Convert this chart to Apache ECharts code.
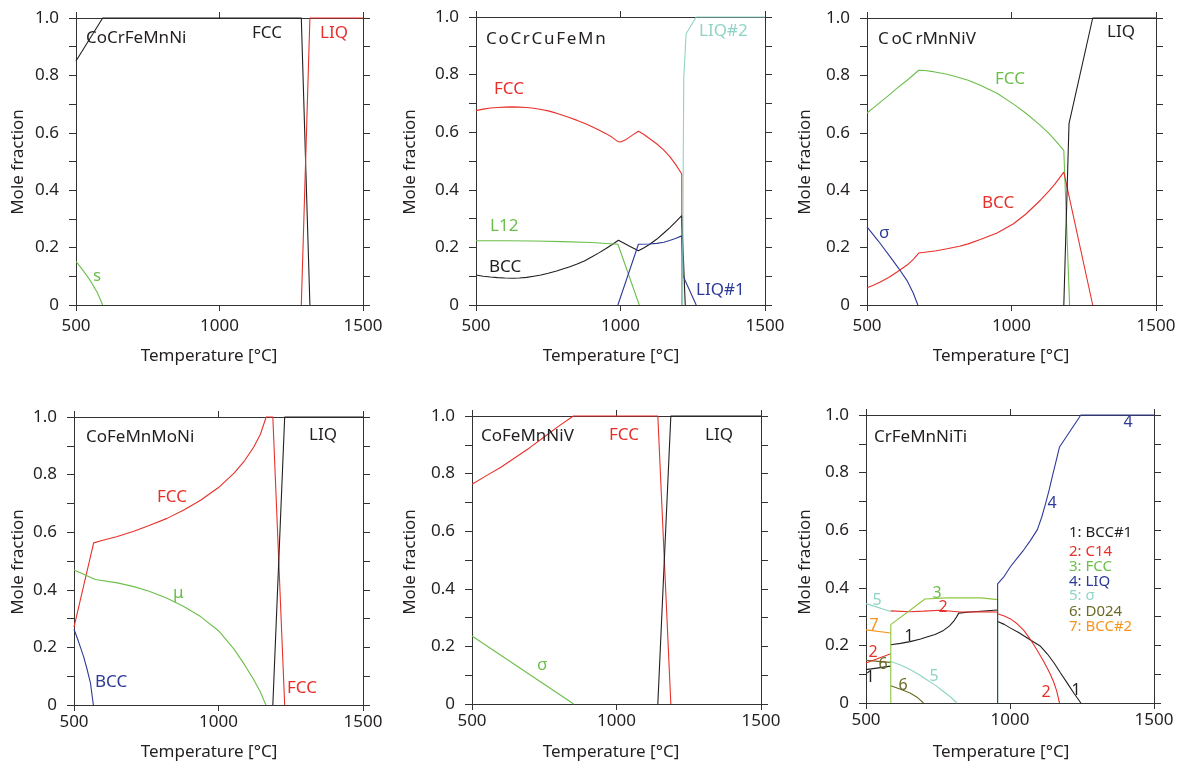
<!DOCTYPE html>
<html><head><meta charset="utf-8">
<script src="https://cdn.jsdelivr.net/npm/echarts@6/dist/echarts.min.js"></script>
<style>html,body{margin:0;padding:0;background:#fff}#c{width:1180px;height:768px}</style>
</head><body><div id="c"></div>
<script>
// ---------- data (temperature °C, mole fraction) ----------
const xTicks = [500, 1000, 1500];
const yTicks = [0, 0.2, 0.4, 0.6, 0.8, 1.0];

// Panel 1: CoCrFeMnNi
const p1_fcc = [[500,0.85],[593,1],[1285,1],[1315,0]];
const p1_liq = [[1285,0],[1315,1],[1500,1]];
const p1_s   = [[500,0.152],[525,0.12],[550,0.085],[575,0.042],[593,0]];

// Panel 2: CoCrCuFeMn
const p2_fcc = [[500,0.675],[525,0.680],[550,0.684],[575,0.686],[600,0.687],[625,0.688],[650,0.687],[675,0.686],[700,0.683],[725,0.679],[750,0.674],[775,0.667],[800,0.659],[825,0.650],[850,0.641],[875,0.631],[900,0.620],[925,0.608],[950,0.595],[970,0.583],[990,0.568],[1000,0.566],[1020,0.575],[1040,0.589],[1062,0.603],[1080,0.593],[1100,0.578],[1125,0.560],[1150,0.538],[1170,0.516],[1190,0.489],[1212,0.455],[1213,0]];
const p2_bcc = [[500,0.104],[525,0.100],[550,0.097],[575,0.095],[600,0.094],[629,0.093],[650,0.094],[675,0.096],[700,0.100],[725,0.104],[750,0.110],[779,0.118],[800,0.125],[825,0.133],[850,0.142],[875,0.153],[900,0.167],[925,0.181],[950,0.196],[970,0.209],[993,0.225],[1030,0.205],[1062,0.188],[1080,0.198],[1100,0.210],[1126,0.229],[1150,0.250],[1170,0.268],[1190,0.288],[1212,0.31],[1224,0]];
const p2_l12 = [[500,0.223],[600,0.223],[700,0.222],[800,0.220],[900,0.217],[991,0.211],[1065,0]];
const p2_liq1 = [[991,0],[1062,0.211],[1100,0.212],[1126,0.214],[1150,0.218],[1170,0.224],[1190,0.231],[1212,0.24],[1217,0.10],[1262,0]];
const p2_liq2 = [[1215,0],[1217,0.5],[1219,0.79],[1227,0.942],[1262,1],[1500,1]];

// Panel 3: CoCrMnNiV
const p3_fcc = [[500,0.669],[520,0.685],[546,0.707],[569,0.725],[600,0.752],[640,0.784],[679,0.818],[700,0.817],[730,0.813],[777,0.804],[800,0.798],[850,0.783],[892,0.766],[950,0.738],[1007,0.700],[1050,0.668],[1100,0.626],[1130,0.597],[1150,0.575],[1170,0.552],[1181,0.539],[1201,0]];
const p3_bcc = [[500,0.06],[520,0.068],[546,0.080],[575,0.096],[604,0.115],[640,0.140],[661,0.160],[679,0.181],[700,0.184],[740,0.189],[777,0.196],[820,0.205],[850,0.213],[892,0.228],[950,0.251],[1007,0.283],[1050,0.317],[1100,0.365],[1130,0.398],[1150,0.421],[1170,0.448],[1181,0.463],[1281,0]];
const p3_sigma = [[500,0.272],[540,0.222],[581,0.167],[610,0.127],[638,0.086],[660,0.042],[676,0]];
const p3_liq = [[1181,0],[1199,0.632],[1281,1],[1500,1]];

// Panel 4: CoFeMnMoNi
const p4_fcc = [[500,0.27],[568,0.563],[600,0.572],[650,0.585],[707,0.603],[760,0.623],[822,0.648],[880,0.677],[938,0.711],[1000,0.755],[1053,0.804],[1090,0.848],[1122,0.896],[1145,0.94],[1165,1],[1188,1],[1229,0]];
const p4_mu  = [[500,0.469],[574,0.436],[650,0.424],[707,0.411],[760,0.395],[822,0.371],[880,0.342],[938,0.307],[1000,0.258],[1053,0.195],[1090,0.14],[1122,0.088],[1145,0.045],[1164,0]];
const p4_bcc = [[500,0.263],[515,0.222],[533,0.169],[545,0.125],[557,0.076],[567,0]];
const p4_liq = [[1188,0],[1229,1],[1500,1]];

// Panel 5: CoFeMnNiV
const p5_fcc = [[500,0.763],[550,0.793],[600,0.822],[650,0.856],[700,0.89],[760,0.935],[800,0.965],[851,1],[1143,1],[1188,0]];
const p5_liq = [[1143,0],[1188,1],[1500,1]];
const p5_sigma = [[500,0.236],[852,0]];

// Panel 6: CrFeMnNiTi
const p6_bcc1_a = [[500,0.116],[586,0.128]];
const p6_bcc1_b = [[586,0.202],[620,0.207],[653,0.213],[690,0.222],[711,0.229],[740,0.238],[769,0.252],[790,0.268],[804,0.283],[815,0.300],[822,0.312],[862,0.316],[957,0.323]];
const p6_bcc1_c = [[957,0.283],[980,0.273],[1002,0.26],[1030,0.245],[1060,0.226],[1085,0.21],[1106,0.197],[1130,0.17],[1153,0.139],[1175,0.105],[1199,0.069],[1222,0.034],[1246,0]];
const p6_c14_a = [[500,0.139],[586,0.171]];
const p6_c14_b = [[586,0.32],[653,0.317],[700,0.319],[758,0.322],[827,0.316],[900,0.317],[957,0.316]];
const p6_c14_c = [[957,0.31],[980,0.302],[1002,0.292],[1025,0.275],[1048,0.252],[1070,0.222],[1090,0.19],[1105,0.165],[1117,0.144],[1130,0.12],[1140,0.1],[1152,0.072],[1162,0.042],[1172,0]];
const p6_fcc = [[586,0],[586,0.272],[705,0.361],[781,0.365],[900,0.365],[957,0.359],[957,0]];
const p6_liq = [[957,0],[957,0.414],[980,0.44],[1002,0.474],[1025,0.503],[1048,0.532],[1070,0.563],[1095,0.602],[1110,0.645],[1124,0.694],[1136,0.74],[1147,0.787],[1160,0.84],[1172,0.889],[1246,1],[1500,1]];
const p6_sigma_a = [[500,0.345],[586,0.318]];
const p6_sigma_b = [[586,0.144],[620,0.132],[653,0.116],[685,0.098],[711,0.081],[740,0.062],[769,0.04],[795,0.02],[815,0]];
const p6_d024_a = [[500,0.148],[586,0.141]];
const p6_d024_b = [[586,0.06],[620,0.048],[653,0.035],[680,0.018],[700,0]];
const p6_bcc2_a = [[500,0.254],[586,0.243]];

// ---------- styling ----------
const C = {k:'#231f20', r:'#e8302a', g:'#6cbf4a', b:'#2e3a97', t:'#8fd4c4', o:'#6b6b28', y:'#f7941d'};
const FONT = '"Noto Sans", sans-serif';
const AX = '#333333';

const grids = [
  {left:76, top:18, width:287, height:287},
  {left:476, top:17, width:289, height:288},
  {left:867, top:18, width:289, height:287},
  {left:74, top:417, width:289, height:288},
  {left:472, top:416, width:289, height:288},
  {left:866, top:415, width:288, height:288}
];

const panelSeries = [
  [[p1_fcc,C.k],[p1_liq,C.r],[p1_s,C.g]],
  [[p2_fcc,C.r],[p2_bcc,C.k],[p2_l12,C.g],[p2_liq1,C.b],[p2_liq2,C.t]],
  [[p3_fcc,C.g],[p3_bcc,C.r],[p3_sigma,C.b],[p3_liq,C.k]],
  [[p4_fcc,C.r],[p4_mu,C.g],[p4_bcc,C.b],[p4_liq,C.k]],
  [[p5_fcc,C.r],[p5_liq,C.k],[p5_sigma,C.g]],
  [[p6_sigma_a,C.t],[p6_sigma_b,C.t],[p6_d024_a,C.o],[p6_d024_b,C.o],[p6_bcc2_a,C.y],
   [p6_bcc1_a,C.k],[p6_bcc1_b,C.k],[p6_bcc1_c,C.k],[p6_c14_a,C.r],[p6_c14_b,C.r],[p6_c14_c,C.r],
   [p6_fcc,'#8cc63f'],[p6_liq,C.b]]
];

// text annotations: [x, y, text, color, size, align]
const labels = [
  [86,38,'CoCrFeMnNi',C.k,17,'left'],[252,33,'FCC',C.k,17,'left'],[320,33,'LIQ',C.r,17,'left'],[93,276,'s',C.g,17,'left'],
  [486,39,'C\u200Ao\u200AC\u200Ar\u200AC\u200Au\u200AF\u200Ae\u200AM\u200An',C.k,17,'left'],[494,89,'FCC',C.r,17,'left'],[490,226,'L12',C.g,17,'left'],
  [489,267,'BCC',C.k,17,'left'],[696,290,'LIQ#1',C.b,17,'left'],[699,31,'LIQ#2',C.t,17,'left'],
  [878,39,'C\u2009oC\u2009rMnNiV',C.k,17,'left'],[1107,32,'LIQ',C.k,17,'left'],[995,79,'FCC',C.g,17,'left'],[982,203,'BCC',C.r,17,'left'],[879,233,'\u03c3',C.b,17,'left'],
  [86,437,'CoFeMnMoNi',C.k,17,'left'],[309,435,'LIQ',C.k,17,'left'],[157,497,'FCC',C.r,17,'left'],[173,593,'\u03bc',C.g,17,'left'],
  [95,682,'BCC',C.b,17,'left'],[287,688,'FCC',C.r,17,'left'],
  [481,436,'CoFeMnNiV',C.k,17,'left'],[609,435,'FCC',C.r,17,'left'],[705,435,'LIQ',C.k,17,'left'],[537,665,'\u03c3',C.g,17,'left'],
  [874,437,'CrFeMnNiTi',C.k,17,'left'],
  [1069,533,'1: BCC#1',C.k,15,'left'],[1069,552,'2: C14',C.r,15,'left'],[1069,567,'3: FCC',C.g,15,'left'],[1069,582,'4: LIQ',C.b,15,'left'],
  [1069,596,'5: \u03c3',C.t,15,'left'],[1069,612,'6: D024',C.o,15,'left'],[1069,627,'7: BCC#2',C.y,15,'left'],
  [877,600,'5',C.t,16,'center'],[874,625,'7',C.y,16,'center'],[873,652,'2',C.r,16,'center'],[883,664,'6',C.o,16,'center'],[870,677,'1',C.k,16,'center'],
  [937,593,'3',C.g,16,'center'],[943,607,'2',C.r,16,'center'],[909,636,'1',C.k,16,'center'],[934,676,'5',C.t,16,'center'],[903,685,'6',C.o,16,'center'],
  [1046,692,'2',C.r,16,'center'],[1076,690,'1',C.k,16,'center'],[1128,422,'4',C.b,16,'center'],[1052,503,'4',C.b,16,'center']
];

// axis titles: x title center & y title center per panel
const xTitles = [[209,356],[611,356],[1001,356],[209,752],[611,752],[1001,752]];
const yTitles = [[18,162],[410,162],[805,162],[18,562],[410,562],[805,562]];
const labelMargins = [13,13,13,9,9,9];

// ---------- build option ----------
const xAxes = [], yAxes = [], series = [], graphic = [];
function mkLine() { return {show:true, onZero:false, lineStyle:{color:AX, width:1, opacity:1}}; }
function mkTick(len) { return {show:true, inside:false, length:len, lineStyle:{color:AX, width:1, opacity:1}}; }
grids.forEach((g, i) => {
  xAxes.push({gridIndex:i, type:'value', position:'bottom', min:xTicks[0], max:xTicks[xTicks.length-1], interval:500,
    axisLine:mkLine(), axisTick:mkTick(6), splitLine:{show:false}, minorTick:{show:false},
    axisLabel:{show:true, margin:labelMargins[i], color:C.k, fontSize:17, fontFamily:FONT, formatter:v => String(v)}});
  xAxes.push({gridIndex:i, type:'value', position:'top', min:xTicks[0], max:xTicks[xTicks.length-1], interval:500,
    axisLine:mkLine(), axisTick:mkTick(6), splitLine:{show:false}, axisLabel:{show:false}});
  yAxes.push({gridIndex:i, type:'value', position:'left', min:0, max:1, interval:0.1,
    axisLine:mkLine(), axisTick:mkTick(7), splitLine:{show:false},
    axisLabel:{show:true, margin:17, color:C.k, fontSize:17, fontFamily:FONT,
      formatter:v => { const r = Math.round(v*10); if (r % 2) return ''; const t = yTicks.find(q => Math.abs(q - r/10) < 1e-6); return t === 0 ? '0' : t.toFixed(1); }}});
  yAxes.push({gridIndex:i, type:'value', position:'right', min:0, max:1, interval:0.1,
    axisLine:mkLine(), axisTick:mkTick(7), splitLine:{show:false}, axisLabel:{show:false}});
  panelSeries[i].forEach(([data, color]) => {
    series.push({type:'line', xAxisIndex:2*i, yAxisIndex:2*i, data:data, symbol:'none', showSymbol:false,
      lineStyle:{color:color, width:1.1}, clip:false, silent:true, animation:false, z:3});
  });
  graphic.push({type:'text', x:xTitles[i][0], y:xTitles[i][1],
    style:{text:'Temperature [\u00b0C]', fill:C.k, font:'17px ' + FONT, textAlign:'center', textVerticalAlign:'middle', align:'center', verticalAlign:'middle'}});
  graphic.push({type:'text', x:yTitles[i][0], y:yTitles[i][1], rotation:Math.PI/2,
    style:{text:'Mole fraction', fill:C.k, font:'17px ' + FONT, textAlign:'center', textVerticalAlign:'middle', align:'center', verticalAlign:'middle'}});
});
labels.forEach(([x, y, t, col, sz, al]) => {
  graphic.push({type:'text', x:x, y:y, z:10,
    style:{text:t, fill:col, font:sz + 'px ' + FONT, textAlign:al, textVerticalAlign:'middle', align:al, verticalAlign:'middle'}});
});

const chart = echarts.init(document.getElementById('c'), null, {renderer:'canvas'});
chart.setOption({
  animation:false,
  grid:grids,
  xAxis:xAxes, yAxis:yAxes, series:series, graphic:graphic
});
</script></body></html>
